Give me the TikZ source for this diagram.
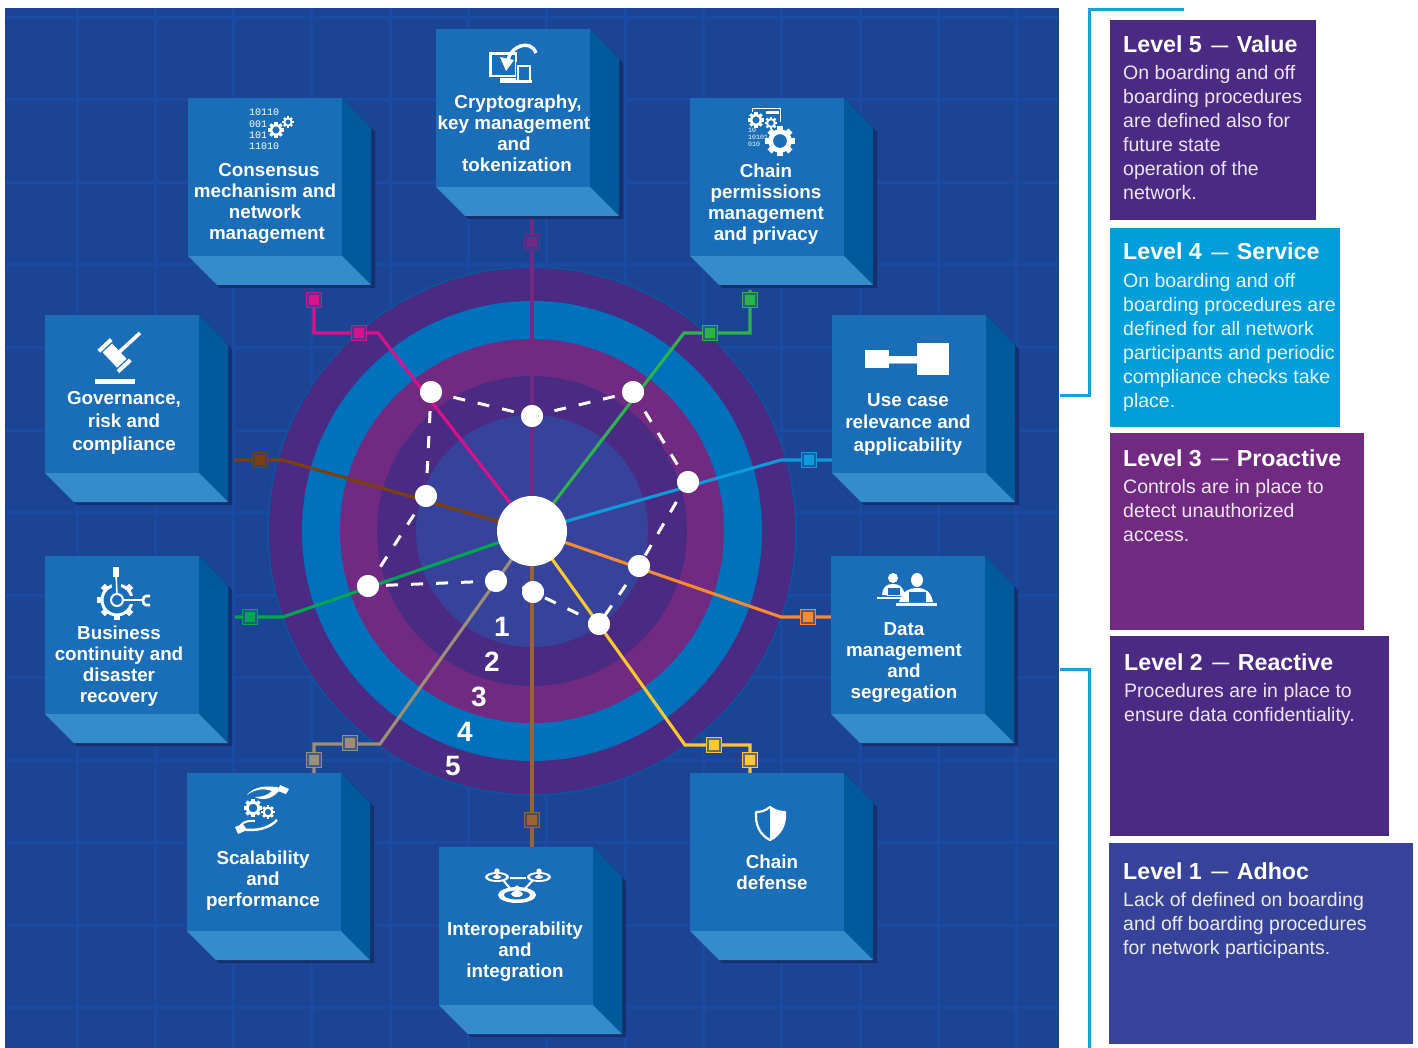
\documentclass[tikz,border=0pt]{standalone}
\usepackage{fontspec}
\setmainfont{Liberation Sans}
\newfontfamily\codefont{Liberation Mono}
\definecolor{bgblue}{HTML}{1B4495}
\definecolor{gridblue}{HTML}{1A4AA1}
\definecolor{ringA}{HTML}{4B2A83}
\definecolor{ringB}{HTML}{0071BC}
\definecolor{ringC}{HTML}{702A82}
\definecolor{ringE}{HTML}{37439B}
\definecolor{ringEdge}{HTML}{0B55A0}
\definecolor{boxfrontc}{HTML}{1A6EB8}
\definecolor{boxsidec}{HTML}{005A9C}
\definecolor{boxbottomc}{HTML}{368BCB}
\definecolor{boxshadowc}{HTML}{15306E}
\definecolor{lvlfour}{HTML}{009FDB}
\definecolor{bracketc}{HTML}{12A3DC}
\definecolor{cMagenta}{HTML}{D9128C}
\definecolor{cPurple}{HTML}{702A82}
\definecolor{cGreen}{HTML}{2FB14B}
\definecolor{cSky}{HTML}{0E9BDB}
\definecolor{cOrange}{HTML}{F58A33}
\definecolor{cYellow}{HTML}{FDC82F}
\definecolor{cTan}{HTML}{9A6330}
\definecolor{cTaupe}{HTML}{9B8F78}
\definecolor{cGreenB}{HTML}{00A651}
\definecolor{cBrown}{HTML}{7B3F10}
\tikzset{
  boxfront/.style={fill=boxfrontc,minimum width=154pt,minimum height=158pt,inner sep=0pt,anchor=north west},
  boxlabel/.style={text=white,align=center,inner sep=0pt,font=\bfseries\fontsize{18.8}{21}\selectfont},
  spoke/.style={line width=3.1pt,line join=miter},
  dashline/.style={white,line width=3pt,dash pattern=on 12pt off 13pt,dash phase=2pt},
  dot/.style={circle,fill=white,minimum size=22pt,inner sep=0pt},
  hubnode/.style={circle,fill=white,minimum size=70pt,inner sep=0pt},
  ringnum/.style={text=white,inner sep=0pt,font=\bfseries\fontsize{28}{28}\selectfont},
  lvltitle/.style={anchor=base west,inner sep=0pt,text=white,font=\bfseries\fontsize{23.2}{26}\selectfont},
  lvlbody/.style={anchor=north west,inner sep=0pt,align=left,font=\fontsize{19.5}{24}\selectfont},
  bracket/.style={bracketc,line width=3pt},
  icon/.style={white,line width=2pt},
}
% the short dash in the level titles
\newcommand{\lvldash}{\hspace{9.5pt}\raisebox{1.5pt}{\fontsize{17}{17}\selectfont —}\hspace{8.5pt}}
% marker: outlined square + solid inner square
\newcommand{\markerbox}[4]{%
  \node[draw=#4,line width=1.3pt,fill=bgblue!70!#4,minimum size=15pt,inner sep=0pt] (#1) at (#2,#3) {};
  \node[fill=#4,minimum size=10.5pt,inner sep=0pt] (#1i) at (#2,#3) {};}
% 3D box
\newcommand{\cube}[3]{%
  \begin{scope}[shift={(#2,#3)}]
    \fill[boxshadowc] (154,0)--(187,34)--(187,190)--(32,190)--(29,187)--(154,158)--cycle;
    \fill[boxsidec] (154,0)--(183,30)--(183,187)--(154,158)--cycle;
    \fill[boxbottomc] (0,158)--(29,187)--(183,187)--(154,158)--cycle;
    \node[boxfront] (#1) at (0,0) {};
  \end{scope}}
\newcommand{\gearicon}[3]{%
  \begin{scope}[shift={(#1,#2)}]
    \foreach \a in {0,45,...,315}{\fill[white,rotate=\a] (-.22*#3,.7*#3) rectangle (.22*#3,1.14*#3);}
    \draw[white,line width=.36*#3 pt] (0,0) circle [radius=.72*#3];
  \end{scope}}
\begin{document}
\begin{tikzpicture}[x=1pt,y=-1pt]
\useasboundingbox (0,0) rectangle (1418,1048);
\fill[white] (0,0) rectangle (1418,1048);
\fill[bgblue] (5,8) rectangle (1059,1048);
\begin{scope}
\clip (5,8) rectangle (1059,1048);
\foreach \i in {0,...,13}{\draw[gridblue,line width=3pt] ({-1.3+78.3*\i},8) -- ({-1.3+78.3*\i},1048);}
\foreach \j in {0,...,12}{\draw[gridblue,line width=3pt] (5,{17.5+82.5*\j}) -- (1059,{17.5+82.5*\j});}
\end{scope}

% rings
\coordinate (ctr) at (532,531);
\fill[ringA,draw=ringEdge,line width=1.5pt] (ctr) circle [radius=264];
\fill[ringB] (ctr) circle [radius=230];
\fill[ringC] (ctr) circle [radius=192];
\fill[ringA] (ctr) circle [radius=155];
\fill[ringE] (ctr) circle [radius=116];

% connector bends and free ends
\coordinate (mgA) at (378,333); \coordinate (mgB) at (314,333); \coordinate (mgC) at (314,300);
\coordinate (puA) at (532,216);
\coordinate (grA) at (684,333); \coordinate (grB) at (750,333); \coordinate (grC) at (750,290);
\coordinate (skA) at (781,460); \coordinate (skB) at (832,460);
\coordinate (orA) at (781,617); \coordinate (orB) at (831,617);
\coordinate (yeA) at (685,745); \coordinate (yeB) at (750,745); \coordinate (yeC) at (750,773);
\coordinate (taA) at (532,847);
\coordinate (tpA) at (380,744); \coordinate (tpB) at (314,744); \coordinate (tpC) at (314,773);
\coordinate (gbA) at (283,617); \coordinate (gbB) at (235,617);
\coordinate (brA) at (283,460); \coordinate (brB) at (234,460);

\draw[spoke,cMagenta] (ctr) -- (mgA) -- (mgB) -- (mgC);
\draw[spoke,cPurple] (ctr) -- (puA);
\draw[spoke,cGreen] (ctr) -- (grA) -- (grB) -- (grC);
\draw[spoke,cSky] (ctr) -- (skA) -- (skB);
\draw[spoke,cOrange] (ctr) -- (orA) -- (orB);
\draw[spoke,cYellow] (ctr) -- (yeA) -- (yeB) -- (yeC);
\draw[spoke,cTan] (ctr) -- (taA);
\draw[spoke,cTaupe] (ctr) -- (tpA) -- (tpB) -- (tpC);
\draw[spoke,cGreenB] (ctr) -- (gbA) -- (gbB);
\draw[spoke,cBrown] (ctr) -- (brA) -- (brB);

\markerbox{mkMgA}{359}{333}{cMagenta}
\markerbox{mkMgB}{314}{300}{cMagenta}
\markerbox{mkPu}{532}{242}{cPurple}
\markerbox{mkGrA}{710}{333}{cGreen}
\markerbox{mkGrB}{750}{300}{cGreen}
\markerbox{mkSk}{809}{460}{cSky}
\markerbox{mkOr}{808}{617}{cOrange}
\markerbox{mkYeA}{714}{745}{cYellow}
\markerbox{mkYeB}{750}{760}{cYellow}
\markerbox{mkTa}{532}{820}{cTan}
\markerbox{mkTpA}{350}{743}{cTaupe}
\markerbox{mkTpB}{314}{760}{cTaupe}
\markerbox{mkGb}{250}{617}{cGreenB}
\markerbox{mkBr}{260}{460}{cBrown}

% dots and hub
\node[dot] (d1) at (431,392) {};
\node[dot] (d2) at (532,416) {};
\node[dot] (d3) at (633,392) {};
\node[dot] (d4) at (688,482) {};
\node[dot] (d5) at (639,566) {};
\node[dot] (d6) at (599,624) {};
\node[dot] (d7) at (533,592) {};
\node[dot] (d8) at (496,581) {};
\node[dot] (d9) at (368,586) {};
\node[dot] (d10) at (426,496) {};
\coordinate (dashend) at (518,585);
\draw[dashline] (d1.center) -- (d2.center);
\draw[dashline] (d2.center) -- (d3.center);
\draw[dashline] (d3.center) -- (d4.center);
\draw[dashline] (d4.center) -- (d5.center);
\draw[dashline] (d5.center) -- (d6.center);
\draw[dashline] (d6.center) -- (d7.center) -- (dashend);
\draw[dashline] (d8.center) -- (d9.center);
\draw[dashline] (d9.center) -- (d10.center);
\draw[dashline] (d10.center) -- (d1.center);
\foreach \n in {1,...,10}{\node[dot] at (d\n) {};}
\node[hubnode] (hub) at (ctr) {};

\node[ringnum] (n1) at (502,627) {1};
\node[ringnum] (n2) at (492,662) {2};
\node[ringnum] (n3) at (479,697) {3};
\node[ringnum] (n4) at (465,732) {4};
\node[ringnum] (n5) at (453,766) {5};

% boxes
\cube{bCrypto}{436}{29}
\cube{bCons}{188}{98}
\cube{bPerm}{690}{98}
\cube{bUse}{832}{315}
\cube{bGov}{45}{315}
\cube{bBus}{45}{556}
\cube{bData}{831}{556}
\cube{bScal}{187}{773}
\cube{bDef}{690}{773}
\cube{bInt}{439}{847}

% labels
\node[boxlabel] (tCrypto) at (514,133) {\hspace*{8pt}Cryptography,\\key management\\and\\\hspace*{6pt}tokenization};
\node[boxlabel] (tCons) at (265,203) {\hspace*{8pt}Consensus\\mechanism and\\network\\\hspace*{4pt}management};
\node[boxlabel] (tPerm) at (766,204) {Chain\\permissions\\management\\and privacy};
\node[boxlabel,font=\bfseries\fontsize{18.8}{22.5}\selectfont] (tUse) at (908,424) {Use case\\relevance and\\applicability};
\node[boxlabel,font=\bfseries\fontsize{18.8}{23}\selectfont] (tGov) at (124,423) {Governance,\\risk and\\compliance};
\node[boxlabel] (tBus) at (119,666) {Business\\continuity and\\disaster\\recovery};
\node[boxlabel] (tData) at (904,663) {Data\\management\\and\\segregation};
\node[boxlabel] (tScal) at (263,881) {Scalability\\and\\performance};
\node[boxlabel] (tDef) at (772,872) {Chain\\defense};
\node[boxlabel] (tInt) at (515,952) {Interoperability\\and\\integration};

% icon: cryptography
\draw[icon,line width=2.5pt] (490.5,53.5) rectangle (516,76);
\fill[white] (500,78) rectangle (516,83);
\fill[boxfrontc] (516,62) rectangle (533,84);
\draw[icon] (518,66) rectangle (530,82);
\fill[white] (516,80) rectangle (532,83);
\draw[white,line width=3.4pt] (508,60) .. controls (510,47) and (530,38) .. (536,53);
\fill[white] (500,57) -- (514,60) -- (506,71) -- cycle;

% icon: consensus
\node[anchor=north west,inner sep=0pt,align=left,text=white,font=\codefont\fontsize{10}{11.2}\selectfont] (tBits) at (249,109) {10110\\001\\101\\11010};
\gearicon{276}{130}{7}
\gearicon{288}{122}{5}

% icon: chain permissions
\draw[white,line width=1pt] (752,112) -- (752,109) -- (780,109) -- (780,122);
\fill[white] (766,111) rectangle (779,114);
\gearicon{756}{120}{7}
\gearicon{771}{123}{5.5}
\gearicon{780}{141}{13}
\node[anchor=north west,inner sep=0pt,align=left,text=white,font=\codefont\fontsize{6.6}{7}\selectfont] (tBitsB) at (748,128) {10\\10101\\010};

% icon: use case
\draw[white,draw opacity=.5,line width=1pt,fill=white] (889,356) rectangle (918,363);
\fill[white] (865,350) rectangle (889,368);
\fill[white] (917,343) rectangle (949,375);

% icon: gavel
\draw[white,line width=3.6pt] (115,356) -- (140,333);
\begin{scope}[shift={(114.6,355.6)},rotate=-47]
  \fill[white] (-16,-8.5) rectangle (-12,8.5);
  \fill[white] (12,-8.5) rectangle (16,8.5);
  \fill[white] (-10.5,-6.5) rectangle (10.5,6.5);
\end{scope}
\fill[white] (95,379) rectangle (135,384);

% icon: business continuity
\foreach \a in {0,45,...,315}{\fill[white,shift={(117,600)},rotate=\a] (-3,14) rectangle (3,20);}
\draw[white,line width=3pt] (117,600) circle [radius=15];
\fill[boxfrontc] (112,578) rectangle (121,590);
\fill[boxfrontc] (128,596) rectangle (140,604);
\draw[white,line width=2pt] (117,600) circle [radius=6];
\draw[white,line width=1.6pt] (116,573) -- (117,594);
\fill[white] (113,567) rectangle (119,577);
\draw[white,line width=1.6pt] (123,600) -- (143,600);
\draw[white,line width=2.6pt] (150,596) -- (146,596) .. controls (142,596) and (142,605) .. (146,605) -- (150,605);

% icon: scalability
\fill[white] (247,795) .. controls (254,786) and (268,785) .. (281,788) -- (278,792) .. controls (272,799) and (262,801) .. (255,797) .. controls (262,797) and (268,795) .. (272,791) .. controls (264,788) and (255,789) .. (247,795) -- cycle;
\fill[white] (280,785) -- (289,789) -- (286,794) -- (278,791) -- cycle;
\gearicon{253}{808}{8}
\gearicon{268}{812}{6}
\draw[white,line width=2pt] (240,826) .. controls (245,820) and (250,821) .. (255,821);
\draw[white,line width=2.5pt] (242,829) .. controls (255,832) and (270,828) .. (277,820);
\fill[white] (235,827) -- (243,824) -- (247,830) -- (238,834) -- cycle;

% icon: interoperability
\draw[white,line width=2pt] (503,880) -- (513,892) (533,880) -- (522,892) (510,878) -- (526,878);
\fill[white] (497,877) ellipse [x radius=12,y radius=5];
\fill[white] (539,877) ellipse [x radius=12,y radius=5];
\fill[white] (517,895) ellipse [x radius=19,y radius=8];
\fill[boxfrontc] (497,877) ellipse [x radius=9,y radius=3];
\fill[boxfrontc] (539,877) ellipse [x radius=9,y radius=3];
\fill[boxfrontc] (517,895) ellipse [x radius=13,y radius=4.5];
\fill[white] (497,877) ellipse [x radius=4,y radius=2];
\fill[white] (539,877) ellipse [x radius=4,y radius=2];
\fill[white] (517,894) ellipse [x radius=6,y radius=3];
\foreach \px/\py in {497/871,539/871,517/888}{
  \fill[white] (\px,\py) circle [radius=2.6];
  \fill[white] (\px-2.4,\py+1) -- (\px+2.4,\py+1) -- (\px,\py+6) -- cycle;
}

% icon: people
\fill[white] (893,578) circle [radius=5];
\fill[white] (882,595) .. controls (883,586) and (887,584) .. (893,584) .. controls (899,584) and (903,586) .. (905,596) -- cycle;
\fill[boxfrontc] (887,586.5) rectangle (901,595);
\draw[white,line width=.8pt] (887,587) rectangle (900,595);
\fill[white] (877,597) rectangle (907,599);
\fill[white] (917,580) ellipse [x radius=6,y radius=7];
\fill[white] (899,602) .. controls (902,592) and (908,588) .. (917,588) .. controls (926,588) and (931,592) .. (933,602) -- cycle;
\fill[boxfrontc] (909,592) rectangle (926,602);
\fill[white] (896,603) rectangle (937,606);

% icon: shield
\draw[white,line width=2.2pt,line join=round] (770,807) .. controls (765,811) and (761,812) .. (756,812) .. controls (755,825) and (760,835) .. (770,840) .. controls (780,835) and (786,825) .. (785,812) .. controls (780,812) and (775,811) .. (770,807) -- cycle;
\fill[white] (770,807) .. controls (775,811) and (780,812) .. (785,812) .. controls (786,825) and (780,835) .. (770,840) -- cycle;

% right panels
\fill[ringA] (1110,20) rectangle (1316,220);
\fill[lvlfour] (1110,228) rectangle (1340,427);
\fill[ringC] (1110,433) rectangle (1364,630);
\fill[ringA] (1110,636) rectangle (1389,836);
\fill[ringE] (1109,843) rectangle (1413,1044);

\coordinate (brTopA) at (1184,10); \coordinate (brTopB) at (1089,10); \coordinate (brTopC) at (1089,395); \coordinate (brTopD) at (1060,395);
\coordinate (brBotA) at (1060,669); \coordinate (brBotB) at (1089,669); \coordinate (brBotC) at (1089,1048);
\draw[bracket] (brTopA) -- (brTopB) -- (brTopC) -- (brTopD);
\draw[bracket] (brBotA) -- (brBotB) -- (brBotC);

\node[lvltitle] (l5t) at (1123,53) {Level 5\lvldash Value};
\node[lvlbody,text=ringA!12!white] (l5b) at (1123,65) {On boarding and off\\boarding procedures\\are defined also for\\future state\\operation of the\\network.};
\node[lvltitle] (l4t) at (1123,260) {Level 4\lvldash Service};
\node[lvlbody,text=lvlfour!8!white] (l4b) at (1123,273) {On boarding and off\\boarding procedures are\\defined for all network\\participants and periodic\\compliance checks take\\place.};
\node[lvltitle] (l3t) at (1123,466) {Level 3\lvldash Proactive};
\node[lvlbody,text=ringC!12!white] (l3b) at (1123,479) {Controls are in place to\\detect unauthorized\\access.};
\node[lvltitle] (l2t) at (1124,670) {Level 2\lvldash Reactive};
\node[lvlbody,text=ringA!12!white] (l2b) at (1124,683) {Procedures are in place to\\ensure data confidentiality.};
\node[lvltitle] (l1t) at (1123,879) {Level 1\lvldash Adhoc};
\node[lvlbody,text=ringE!12!white] (l1b) at (1123,892) {Lack of defined on boarding\\and off boarding procedures\\for network participants.};
\end{tikzpicture}
\end{document}
